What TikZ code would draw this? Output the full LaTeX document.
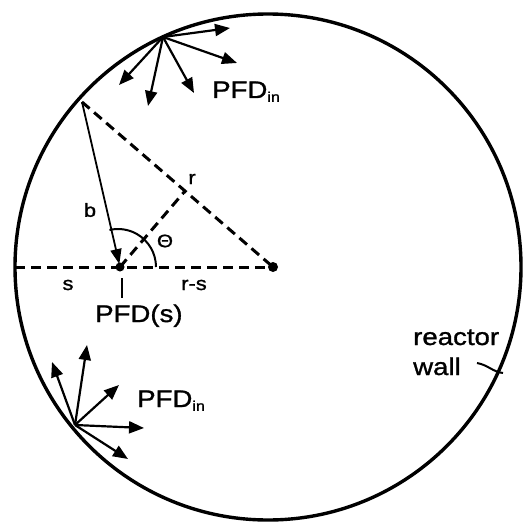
\documentclass[tikz,border=0pt]{standalone}
\usepackage{fontspec}
\setmainfont{Liberation Sans}[FakeStretch=1.15,FakeBold=1.2]
\usetikzlibrary{arrows.meta}
\begin{document}
\begin{tikzpicture}[x=1pt,y=-1pt,
  wall/.style={line width=3.4pt},
  vec/.style={line width=2.2pt,-{Triangle[length=15pt,width=12pt]}},
  dashline/.style={line width=3pt,dash pattern=on 10pt off 6pt},
  thin/.style={line width=2pt},
  biglbl/.style={font=\fontsize{24}{26}\selectfont,inner sep=0pt},
  smalllbl/.style={font=\fontsize{19}{21}\selectfont,inner sep=0pt}]
\useasboundingbox (0,0) rectangle (522,524);
% reactor wall
\coordinate (C) at (268,267);
\draw[wall] (C) circle (253);
% key points
\coordinate (T) at (163,37);
\coordinate (B) at (75,425);
\coordinate (P) at (82,102);
\coordinate (S) at (120,267);
\coordinate (O) at (273,267);
\coordinate (L) at (15,267);
\coordinate (F) at (185,191);
% top fan
\coordinate (t1) at (230,28);
\coordinate (t2) at (237,63);
\coordinate (t3) at (194,93);
\coordinate (t4) at (148,106);
\coordinate (t5) at (119,85);
\foreach \p in {t1,t2,t3,t4,t5} \draw[vec] (T) -- (\p);
% bottom fan
\coordinate (b1) at (52,362);
\coordinate (b2) at (87,345);
\coordinate (b3) at (119,385);
\coordinate (b4) at (144,428);
\coordinate (b5) at (128,459);
\foreach \p in {b1,b2,b3,b4,b5} \draw[vec] (B) -- (\p);
% dashed geometry
\draw[dashline] (L) -- (O);
\draw[dashline] (P) -- (O);
\draw[dashline] (S) -- (F);
\fill (O) circle (5);
\fill (S) circle (4.5);
% b vector
\draw[line width=1.8pt,-{Triangle[length=15pt,width=11pt]},shorten >=3pt] (P) -- (S);
% angle arc
\draw[thin] ([xshift=36pt]S) arc[start angle=0,end angle=-103,radius=38];
% tick below PFD(s)
\coordinate (k1) at (122,278);
\coordinate (k2) at (122,298);
\draw[thin] (k1) -- (k2);
% labels
\node[smalllbl] (lb) at (90,210) {b};
\node[smalllbl] (lr) at (192,179) {r};
\node[smalllbl,font=\fontsize{18}{20}\selectfont] (lth) at (165,241) {Θ};
\node[smalllbl] (ls) at (68,285) {s};
\node[smalllbl] (lrs) at (194,285) {r-s};
\node[biglbl,anchor=base west] (lpfds) at (95,322) {PFD(s)};
\node[biglbl,anchor=base west] (lin1) at (212,98) {PFD\raisebox{-0.3ex}{\fontsize{14}{14}\selectfont in}};
\node[biglbl,anchor=base west] (lin2) at (137,407) {PFD\raisebox{-0.3ex}{\fontsize{14}{14}\selectfont in}};
\node[biglbl,anchor=base west] (lre) at (413,345) {reactor};
\node[biglbl,anchor=base west] (lwa) at (413,375) {wall};
\coordinate (w1) at (477,363);
\coordinate (w2) at (503,373);
\draw[thin] (w1) .. controls (488,365) and (493,372) .. (w2);
\end{tikzpicture}
\end{document}
